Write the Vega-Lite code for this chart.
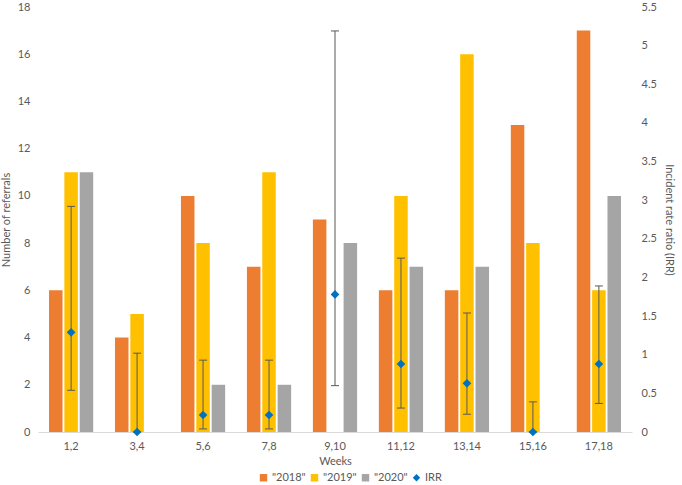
{
  "$schema": "https://vega.github.io/schema/vega-lite/v6.json",
  "width": 594,
  "height": 425,
  "autosize": {"type": "none"},
  "padding": {"left": 38, "top": 7, "right": 50, "bottom": 53},
  "background": "white",
  "config": {
    "font": "Lato",
    "view": {"stroke": null},
    "axis": {"labelColor": "#595959", "titleColor": "#595959", "labelFontSize": 11, "titleFontSize": 11, "titleFontWeight": "normal", "grid": false, "ticks": false, "domain": false, "labelFont": "Lato", "titleFont": "Lato", "labelOverlap": false},
    "legend": {"labelColor": "#595959", "labelFontSize": 11, "labelFont": "Lato"}
  },
  "datasets": {
    "bars": [
      {"week": "1,2", "series": "\"2018\"", "count": 6},
      {"week": "1,2", "series": "\"2019\"", "count": 11},
      {"week": "1,2", "series": "\"2020\"", "count": 11},
      {"week": "3,4", "series": "\"2018\"", "count": 4},
      {"week": "3,4", "series": "\"2019\"", "count": 5},
      {"week": "3,4", "series": "\"2020\"", "count": 0},
      {"week": "5,6", "series": "\"2018\"", "count": 10},
      {"week": "5,6", "series": "\"2019\"", "count": 8},
      {"week": "5,6", "series": "\"2020\"", "count": 2},
      {"week": "7,8", "series": "\"2018\"", "count": 7},
      {"week": "7,8", "series": "\"2019\"", "count": 11},
      {"week": "7,8", "series": "\"2020\"", "count": 2},
      {"week": "9,10", "series": "\"2018\"", "count": 9},
      {"week": "9,10", "series": "\"2019\"", "count": 0},
      {"week": "9,10", "series": "\"2020\"", "count": 8},
      {"week": "11,12", "series": "\"2018\"", "count": 6},
      {"week": "11,12", "series": "\"2019\"", "count": 10},
      {"week": "11,12", "series": "\"2020\"", "count": 7},
      {"week": "13,14", "series": "\"2018\"", "count": 6},
      {"week": "13,14", "series": "\"2019\"", "count": 16},
      {"week": "13,14", "series": "\"2020\"", "count": 7},
      {"week": "15,16", "series": "\"2018\"", "count": 13},
      {"week": "15,16", "series": "\"2019\"", "count": 8},
      {"week": "15,16", "series": "\"2020\"", "count": 0},
      {"week": "17,18", "series": "\"2018\"", "count": 17},
      {"week": "17,18", "series": "\"2019\"", "count": 6},
      {"week": "17,18", "series": "\"2020\"", "count": 10}
    ],
    "irr": [
      {"week": "1,2", "series": "IRR", "irr": 1.29, "lo": 0.54, "hi": 2.92},
      {"week": "3,4", "series": "IRR", "irr": 0, "lo": 0, "hi": 1.02},
      {"week": "5,6", "series": "IRR", "irr": 0.22, "lo": 0.04, "hi": 0.93},
      {"week": "7,8", "series": "IRR", "irr": 0.22, "lo": 0.04, "hi": 0.93},
      {"week": "9,10", "series": "IRR", "irr": 1.78, "lo": 0.6, "hi": 5.19},
      {"week": "11,12", "series": "IRR", "irr": 0.88, "lo": 0.31, "hi": 2.25},
      {"week": "13,14", "series": "IRR", "irr": 0.63, "lo": 0.23, "hi": 1.54},
      {"week": "15,16", "series": "IRR", "irr": 0, "lo": 0, "hi": 0.39},
      {"week": "17,18", "series": "IRR", "irr": 0.88, "lo": 0.37, "hi": 1.89}
    ]
  },
  "layer": [
    {
      "data": {"name": "bars"},
      "mark": {"type": "bar"},
      "encoding": {
        "x": {"field": "week", "type": "nominal", "sort": null, "scale": {"paddingInner": 0.33, "paddingOuter": 0.167}, "axis": {"title": "Weeks", "labelAngle": 0, "domain": true, "domainColor": "#D9D9D9", "labelPadding": 8, "titlePadding": 4}},
        "xOffset": {"field": "series", "type": "nominal", "scale": {"paddingInner": 0.12}},
        "y": {"field": "count", "type": "quantitative", "scale": {"domain": [0, 18]}, "axis": {"title": "Number of referrals", "values": [0, 2, 4, 6, 8, 10, 12, 14, 16, 18], "labelPadding": 8, "titlePadding": 6}},
        "color": {"field": "series", "type": "nominal", "title": "series", "scale": {"domain": ["\"2018\"", "\"2019\"", "\"2020\"", "IRR"], "range": ["#ED7D31", "#FFC000", "#A5A5A5", "#0070C0"]}, "legend": {"title": null, "orient": "none", "direction": "horizontal", "legendX": 220, "legendY": 465, "symbolSize": 55, "columnPadding": 3, "labelOffset": 3}}
      }
    },
    {
      "data": {"name": "irr"},
      "layer": [
        {
          "mark": {"type": "rule", "color": "#595959", "strokeWidth": 1},
          "encoding": {
            "x": {"field": "week", "type": "nominal", "sort": null},
            "y": {"field": "lo", "type": "quantitative", "scale": {"domain": [0, 5.5]}, "axis": {"orient": "right", "title": "Incident rate ratio (IRR)", "values": [0, 0.5, 1, 1.5, 2, 2.5, 3, 3.5, 4, 4.5, 5, 5.5], "labelExpr": "datum.value", "labelPadding": 9, "titlePadding": 7, "labelOverlap": false}},
            "y2": {"field": "hi"}
          }
        },
        {
          "mark": {"type": "tick", "color": "#595959", "size": 8, "thickness": 1, "opacity": 1},
          "encoding": {
            "x": {"field": "week", "type": "nominal", "sort": null},
            "y": {"field": "lo", "type": "quantitative", "scale": {"domain": [0, 5.5]}, "axis": {"orient": "right", "title": "Incident rate ratio (IRR)", "values": [0, 0.5, 1, 1.5, 2, 2.5, 3, 3.5, 4, 4.5, 5, 5.5], "labelExpr": "datum.value", "labelPadding": 9, "titlePadding": 7, "labelOverlap": false}}
          }
        },
        {
          "mark": {"type": "tick", "color": "#595959", "size": 8, "thickness": 1, "opacity": 1},
          "encoding": {
            "x": {"field": "week", "type": "nominal", "sort": null},
            "y": {"field": "hi", "type": "quantitative", "scale": {"domain": [0, 5.5]}, "axis": {"orient": "right", "title": "Incident rate ratio (IRR)", "values": [0, 0.5, 1, 1.5, 2, 2.5, 3, 3.5, 4, 4.5, 5, 5.5], "labelExpr": "datum.value", "labelPadding": 9, "titlePadding": 7, "labelOverlap": false}}
          }
        },
        {
          "mark": {"type": "point", "filled": true, "size": 75, "opacity": 1},
          "encoding": {
            "x": {"field": "week", "type": "nominal", "sort": null},
            "y": {"field": "irr", "type": "quantitative", "scale": {"domain": [0, 5.5]}, "axis": {"orient": "right", "title": "Incident rate ratio (IRR)", "values": [0, 0.5, 1, 1.5, 2, 2.5, 3, 3.5, 4, 4.5, 5, 5.5], "labelExpr": "datum.value", "labelPadding": 9, "titlePadding": 7, "labelOverlap": false}},
            "color": {"field": "series", "type": "nominal", "title": "series", "scale": {"domain": ["\"2018\"", "\"2019\"", "\"2020\"", "IRR"], "range": ["#ED7D31", "#FFC000", "#A5A5A5", "#0070C0"]}},
            "shape": {"field": "series", "type": "nominal", "title": "series", "scale": {"domain": ["\"2018\"", "\"2019\"", "\"2020\"", "IRR"], "range": ["square", "square", "square", "diamond"]}}
          }
        }
      ]
    }
  ],
  "resolve": {"scale": {"y": "independent"}}
}
